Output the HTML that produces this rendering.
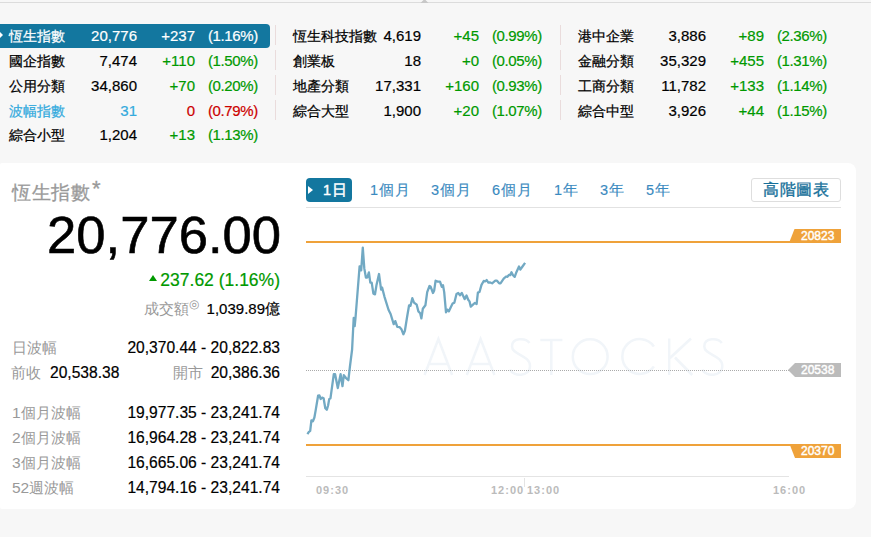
<!DOCTYPE html>
<html><head><meta charset="utf-8"><style>
*{margin:0;padding:0;box-sizing:border-box}
html,body{width:871px;height:542px;overflow:hidden;background:#fff}
body{position:relative;font-family:"Liberation Sans",sans-serif}
.bg{position:absolute;left:0;top:0;width:871px;height:537px;background:#f7f7f7}
.topline{position:absolute;left:0;top:2px;width:871px;height:1px;background:#dcdcdc}
.tri{position:absolute;left:0;top:0}
.hl{position:absolute;left:-4px;top:24px;width:274px;height:24px;background:#13779f;border-radius:4px}
.hlarr{position:absolute;left:0;top:32px;width:0;height:0;border-top:3px solid transparent;border-bottom:3px solid transparent;border-left:3px solid #fff}
.t{position:absolute;white-space:nowrap;line-height:16px}
.nm{font-size:13.6px;-webkit-text-stroke:0.25px currentColor}
.nu{font-size:15px;-webkit-text-stroke:0.2px currentColor}
.sep{position:absolute;width:1px;height:20px;background:#eadcdc}
.card{position:absolute;left:0;top:163px;width:856px;height:346px;background:#fff;border-radius:2px 8px 8px 2px}
.lb{font-size:14.5px;color:#999}
.sv{font-size:15.6px;color:#000;-webkit-text-stroke:0.2px #000}
</style></head><body>
<div class="bg"></div>
<div class="topline"></div>
<svg class="tri" width="871" height="4"><polygon points="420.5,3 428.5,3 424.5,-1" fill="#c8c8c8"/></svg>
<div class="hl"></div>
<div class="hlarr"></div>
<div class="t nm" style="left:9px;top:29px;color:#fff">恆生指數</div>
<div class="t nu" style="right:734px;top:28px;color:#fff">20,776</div>
<div class="t nu" style="right:676px;top:28px;color:#fff">+237</div>
<div class="t nu" style="left:208px;top:28px;color:#fff;letter-spacing:-0.4px">(1.16%)</div>
<div class="t nm" style="left:9px;top:54px;color:#000">國企指數</div>
<div class="t nu" style="right:734px;top:53px;color:#000">7,474</div>
<div class="t nu" style="right:676px;top:53px;color:#009900">+110</div>
<div class="t nu" style="left:208px;top:53px;color:#009900;letter-spacing:-0.4px">(1.50%)</div>
<div class="t nm" style="left:9px;top:79px;color:#000">公用分類</div>
<div class="t nu" style="right:734px;top:78px;color:#000">34,860</div>
<div class="t nu" style="right:676px;top:78px;color:#009900">+70</div>
<div class="t nu" style="left:208px;top:78px;color:#009900;letter-spacing:-0.4px">(0.20%)</div>
<div class="t nm" style="left:9px;top:104px;color:#33aadd">波幅指數</div>
<div class="t nu" style="right:734px;top:103px;color:#33aadd">31</div>
<div class="t nu" style="right:676px;top:103px;color:#cc0000">0</div>
<div class="t nu" style="left:208px;top:103px;color:#cc0000;letter-spacing:-0.4px">(0.79%)</div>
<div class="t nm" style="left:9px;top:128px;color:#000">綜合小型</div>
<div class="t nu" style="right:734px;top:127px;color:#000">1,204</div>
<div class="t nu" style="right:676px;top:127px;color:#009900">+13</div>
<div class="t nu" style="left:208px;top:127px;color:#009900;letter-spacing:-0.4px">(1.13%)</div>
<div class="t nm" style="left:293px;top:29px;color:#000">恆生科技指數</div>
<div class="t nu" style="right:450px;top:28px;color:#000">4,619</div>
<div class="t nu" style="right:392px;top:28px;color:#009900">+45</div>
<div class="t nu" style="left:492px;top:28px;color:#009900;letter-spacing:-0.4px">(0.99%)</div>
<div class="t nm" style="left:293px;top:54px;color:#000">創業板</div>
<div class="t nu" style="right:450px;top:53px;color:#000">18</div>
<div class="t nu" style="right:392px;top:53px;color:#009900">+0</div>
<div class="t nu" style="left:492px;top:53px;color:#009900;letter-spacing:-0.4px">(0.05%)</div>
<div class="t nm" style="left:293px;top:79px;color:#000">地產分類</div>
<div class="t nu" style="right:450px;top:78px;color:#000">17,331</div>
<div class="t nu" style="right:392px;top:78px;color:#009900">+160</div>
<div class="t nu" style="left:492px;top:78px;color:#009900;letter-spacing:-0.4px">(0.93%)</div>
<div class="t nm" style="left:293px;top:104px;color:#000">綜合大型</div>
<div class="t nu" style="right:450px;top:103px;color:#000">1,900</div>
<div class="t nu" style="right:392px;top:103px;color:#009900">+20</div>
<div class="t nu" style="left:492px;top:103px;color:#009900;letter-spacing:-0.4px">(1.07%)</div>
<div class="t nm" style="left:578px;top:29px;color:#000">港中企業</div>
<div class="t nu" style="right:165px;top:28px;color:#000">3,886</div>
<div class="t nu" style="right:107px;top:28px;color:#009900">+89</div>
<div class="t nu" style="left:777px;top:28px;color:#009900;letter-spacing:-0.4px">(2.36%)</div>
<div class="t nm" style="left:578px;top:54px;color:#000">金融分類</div>
<div class="t nu" style="right:165px;top:53px;color:#000">35,329</div>
<div class="t nu" style="right:107px;top:53px;color:#009900">+455</div>
<div class="t nu" style="left:777px;top:53px;color:#009900;letter-spacing:-0.4px">(1.31%)</div>
<div class="t nm" style="left:578px;top:79px;color:#000">工商分類</div>
<div class="t nu" style="right:165px;top:78px;color:#000">11,782</div>
<div class="t nu" style="right:107px;top:78px;color:#009900">+133</div>
<div class="t nu" style="left:777px;top:78px;color:#009900;letter-spacing:-0.4px">(1.14%)</div>
<div class="t nm" style="left:578px;top:104px;color:#000">綜合中型</div>
<div class="t nu" style="right:165px;top:103px;color:#000">3,926</div>
<div class="t nu" style="right:107px;top:103px;color:#009900">+44</div>
<div class="t nu" style="left:777px;top:103px;color:#009900;letter-spacing:-0.4px">(1.15%)</div>
<div class="sep" style="left:275px;top:25px"></div>
<div class="sep" style="left:275px;top:50px"></div>
<div class="sep" style="left:275px;top:75px"></div>
<div class="sep" style="left:275px;top:100px"></div>
<div class="sep" style="left:560px;top:25px"></div>
<div class="sep" style="left:560px;top:50px"></div>
<div class="sep" style="left:560px;top:75px"></div>
<div class="sep" style="left:560px;top:100px"></div>
<div class="card"></div>
<div class="t" style="left:12px;top:180px;font-size:19.4px;line-height:24px;color:#999;letter-spacing:0.5px;-webkit-text-stroke:0.3px #999">恆生指數<span style="font-size:22px;position:relative;top:-3px;margin-left:2px">*</span></div>
<div class="t" style="right:590px;top:207px;font-size:52.6px;line-height:56px;color:#000;-webkit-text-stroke:0.6px #000">20,776.00</div>
<div class="t" style="left:149px;top:275px;width:0;height:0;border-left:4px solid transparent;border-right:4px solid transparent;border-bottom:6px solid #009900"></div>
<div class="t" style="right:591px;top:271px;font-size:17.5px;line-height:18px;color:#009900;-webkit-text-stroke:0.2px #009900">237.62 (1.16%)</div>
<div class="t lb" style="left:144px;top:301px">成交額</div>
<div class="t" style="left:189px;top:297px;font-size:12px;line-height:14px;color:#999">◎</div>
<div class="t" style="right:591px;top:301px;font-size:15px;color:#000;-webkit-text-stroke:0.2px #000">1,039.89億</div>
<div class="t lb" style="left:12px;top:340px">日波幅</div>
<div class="t sv" style="right:591px;top:340px">20,370.44 - 20,822.83</div>
<div class="t lb" style="left:11px;top:365px">前收</div>
<div class="t sv" style="left:50px;top:365px">20,538.38</div>
<div class="t lb" style="left:173px;top:365px">開市</div>
<div class="t sv" style="right:591px;top:365px">20,386.36</div>
<div class="t lb" style="left:12px;top:405px"><span style="font-size:15.5px">1</span>個月波幅</div>
<div class="t sv" style="right:591px;top:405px">19,977.35 - 23,241.74</div>
<div class="t lb" style="left:12px;top:430px"><span style="font-size:15.5px">2</span>個月波幅</div>
<div class="t sv" style="right:591px;top:430px">16,964.28 - 23,241.74</div>
<div class="t lb" style="left:12px;top:455px"><span style="font-size:15.5px">3</span>個月波幅</div>
<div class="t sv" style="right:591px;top:455px">16,665.06 - 23,241.74</div>
<div class="t lb" style="left:12px;top:480px"><span style="font-size:15.5px">52</span>週波幅</div>
<div class="t sv" style="right:591px;top:480px">14,794.16 - 23,241.74</div>
<!-- tabs -->
<div style="position:absolute;left:306px;top:178px;width:46px;height:24px;background:#13779f;border-radius:4px"></div>
<div style="position:absolute;left:308px;top:186px;width:0;height:0;border-top:4px solid transparent;border-bottom:4px solid transparent;border-left:5px solid #fff"></div>
<div class="t" style="left:323px;top:182px;font-size:14.5px;line-height:16px;color:#fff;-webkit-text-stroke:0.45px #fff;letter-spacing:1px">1日</div>
<div class="t tab" style="top:182px;font-size:14.5px;line-height:16px;color:#3a8ac0;letter-spacing:1px;-webkit-text-stroke:0.15px #3a8ac0;left:370px">1個月</div>
<div class="t tab" style="top:182px;font-size:14.5px;line-height:16px;color:#3a8ac0;letter-spacing:1px;-webkit-text-stroke:0.15px #3a8ac0;left:431px">3個月</div>
<div class="t tab" style="top:182px;font-size:14.5px;line-height:16px;color:#3a8ac0;letter-spacing:1px;-webkit-text-stroke:0.15px #3a8ac0;left:492px">6個月</div>
<div class="t tab" style="top:182px;font-size:14.5px;line-height:16px;color:#3a8ac0;letter-spacing:1px;-webkit-text-stroke:0.15px #3a8ac0;left:554px">1年</div>
<div class="t tab" style="top:182px;font-size:14.5px;line-height:16px;color:#3a8ac0;letter-spacing:1px;-webkit-text-stroke:0.15px #3a8ac0;left:600px">3年</div>
<div class="t tab" style="top:182px;font-size:14.5px;line-height:16px;color:#3a8ac0;letter-spacing:1px;-webkit-text-stroke:0.15px #3a8ac0;left:646px">5年</div>
<div style="position:absolute;left:751px;top:178px;width:90px;height:24px;border:1px solid #dedede;border-radius:3px"></div>
<div class="t" style="left:763px;top:181px;font-size:16px;line-height:18px;letter-spacing:0.6px;color:#16709a;-webkit-text-stroke:0.35px #16709a">高階圖表</div>
<div style="position:absolute;left:306px;top:207px;width:535px;height:1px;background:#e2e2e2"></div>
<svg style="position:absolute;left:0;top:0" width="871" height="542">
<g fill="none" stroke="#f1f5f9" stroke-width="2.5">
  <path d="M424.6,375 L438.4,339 L452.1,375 M430,364 L447,364"/>
  <path d="M466.8,375 L480.6,339 L494.4,375 M472.2,364 L489.2,364"/>
  <path d="M529.5,343 C526,338 512,337 512,346.5 C512,355 530,355 530,366 C530,377 513,377 510,369.5"/>
  <path d="M540.3,340 L562.4,340 M551.3,340 L551.3,375"/>
  <circle cx="590.2" cy="356.7" r="17.4"/>
  <path d="M653.9,346.4 A17.4,17.4 0 1 0 653.9,366.6"/>
  <path d="M669.2,338.5 L669.2,375 M691,338.5 L670,358 M675,357.5 L692.2,375"/>
  <path d="M721.8,343 C718.3,338 704.3,337 704.3,346.5 C704.3,355 722.3,355 722.3,366 C722.3,377 705.3,377 702.3,369.5"/>
 </g>
 <rect x="306" y="241" width="535" height="2" fill="#efa23a"/>
 <polygon points="794.5,229 841,229 841,243 789,243" fill="#efa23a"/>
 <line x1="306" y1="370.5" x2="790" y2="370.5" stroke="#aaa" stroke-width="1" stroke-dasharray="1,1"/>
 <polygon points="795,363 841,363 841,377 795,377 788,370" fill="#bbb"/>
 <rect x="306" y="444" width="535" height="2" fill="#efa23a"/>
 <polygon points="789.5,444 841,444 841,458 795,458" fill="#efa23a"/>
 <rect x="306" y="476" width="483" height="1" fill="#e4e4e4"/>
 <rect x="524" y="478" width="1" height="9" fill="#e4e4e4"/>
 <path d="M307.4,434.1 L308.9,431.9 L310.2,430.8 L311.4,420.3 L312.9,421.2 L314.4,417.5 L315.7,410.1 L318.1,395.7 L319.4,395.4 L320.7,399.0 L322.2,397.6 L323.6,398.2 L325.3,408.3 L326.8,409.8 L328.1,405.5 L329.2,399.1 L330.5,398.2 L333.8,374.2 L335.1,374.2 L337.8,388.0 L340.6,374.2 L342.5,386.2 L343.8,375.1 L345.8,377.8 L348.4,380.2 L349.8,367.7 L352.1,349.5 L353.7,318.0 L354.7,326.2 L355.5,318.0 L359.6,266.4 L361.0,266.0 L361.2,270.4 L362.8,247.7 L364.3,268.4 L365.9,277.5 L367.3,277.5 L368.9,272.4 L370.3,282.6 L371.7,282.6 L373.4,293.7 L375.0,294.3 L376.4,285.6 L379.0,274.0 L381.1,289.7 L382.1,287.6 L384.5,296.8 L388.6,310.0 L390.6,314.0 L393.7,324.1 L395.3,321.1 L397.3,326.8 L399.7,327.2 L401.4,329.2 L403.4,334.3 L404.9,330.7 L407.0,317.5 L409.1,305.3 L410.5,305.8 L412.3,298.2 L414.0,302.6 L416.7,304.7 L418.4,311.4 L420.2,313.2 L421.4,318.4 L422.8,308.8 L425.4,305.3 L427.2,292.1 L429.5,286.0 L430.7,286.8 L433.0,293.0 L434.2,290.4 L435.6,280.7 L437.7,281.6 L440.0,281.6 L441.8,286.8 L443.0,285.1 L444.2,292.1 L446.0,312.3 L447.4,309.6 L448.8,311.4 L450.9,307.0 L452.6,303.5 L454.4,302.6 L456.5,293.9 L458.2,293.0 L460.0,295.3 L461.8,293.0 L464.6,299.1 L466.5,295.5 L468.2,299.7 L469.5,301.4 L470.8,306.6 L472.7,304.9 L474.7,303.0 L476.6,304.0 L477.9,292.6 L479.5,292.0 L481.5,284.9 L483.7,281.0 L485.4,281.3 L486.7,280.0 L488.2,282.5 L490.2,282.5 L492.1,283.3 L495.3,280.7 L497.0,280.7 L499.2,283.3 L500.5,283.3 L503.7,278.7 L506.1,276.5 L507.4,276.9 L508.9,274.8 L510.2,275.2 L511.5,272.2 L513.0,275.2 L514.7,276.9 L516.4,272.2 L519.0,266.5 L520.3,269.6 L522.5,266.5 L525.1,262.9" fill="none" stroke="#72a9c3" stroke-width="2.3" stroke-linejoin="round"/>
 <g font-family="Liberation Sans" font-size="12" fill="#fff" stroke="#fff" stroke-width="0.45">
  <text x="801" y="240">20823</text>
  <text x="801" y="374">20538</text>
  <text x="801" y="455">20370</text>
 </g>
 <g font-family="Liberation Sans" font-size="11" font-weight="bold" fill="#bbb" letter-spacing="1">
  <text x="316" y="494">09:30</text>
  <text x="491" y="494">12:00</text>
  <text x="527" y="494">13:00</text>
  <text x="773" y="494">16:00</text>
 </g>
</svg>
</body></html>
